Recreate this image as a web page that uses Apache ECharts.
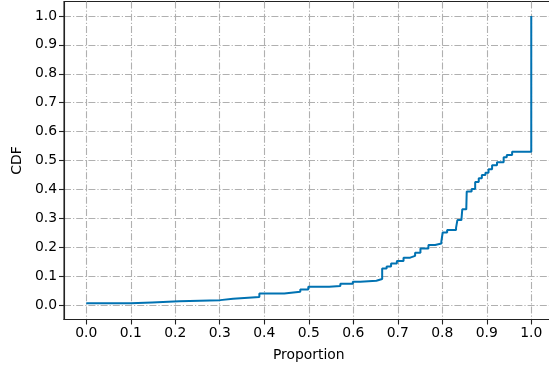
<!DOCTYPE html>
<html>
<head>
<meta charset="utf-8">
<script src="https://cdn.jsdelivr.net/npm/echarts@6/dist/echarts.min.js"></script>
<style>
  html, body { margin: 0; padding: 0; background: #fff; overflow: hidden; }
  /* a bit wider than the window: the right spine falls just outside, as in the picture */
  #chart { width: 560px; height: 368px; }
</style>
</head>
<body>
<div id="chart"></div>
<script>
// step points of the empirical CDF (x = proportion, y = CDF after the jump)
var proportion = [0, 0.1, 0.148, 0.209, 0.301, 0.330, 0.389, 0.445, 0.481, 0.499,
  0.546, 0.571, 0.599, 0.616, 0.652, 0.665, 0.675, 0.685, 0.698, 0.713,
  0.728, 0.739, 0.751, 0.769, 0.784, 0.798, 0.801, 0.811, 0.831, 0.834,
  0.843, 0.845, 0.854, 0.855, 0.866, 0.874, 0.882, 0.889, 0.897, 0.904,
  0.912, 0.923, 0.938, 0.945, 0.957, 1.0];
var cdf = [0.006, 0.009, 0.013, 0.017, 0.022, 0.028, 0.040, 0.046, 0.054, 0.063,
  0.066, 0.074, 0.081, 0.084, 0.090, 0.126, 0.133, 0.144, 0.152, 0.164,
  0.170, 0.181, 0.196, 0.208, 0.213, 0.220, 0.251, 0.260, 0.267, 0.294,
  0.300, 0.331, 0.335, 0.393, 0.401, 0.426, 0.439, 0.450, 0.458, 0.470,
  0.484, 0.494, 0.511, 0.519, 0.530, 1.0];
var tickValues = [0, 0.1, 0.2, 0.3, 0.4, 0.5, 0.6, 0.7, 0.8, 0.9, 1.0];

var chart = echarts.init(document.getElementById('chart'), null, { renderer: 'canvas' });

var font = 'DejaVu Sans';
var gridLine = {
  show: true,
  customValues: tickValues,
  lineStyle: { color: '#b0b0b0', width: 1.1, type: [7, 2, 1.2, 2] }
};

const makeAxis = (name, gap) => ({
  type: 'value',
  min: -0.05,
  max: 1.05,
  name: name,
  nameLocation: 'middle',
  nameGap: gap,
  nameTextStyle: { color: '#000', fontFamily: font, fontSize: 13.9 },
  axisLine: { show: true, onZero: false, lineStyle: { color: '#222', width: 1.1 } },
  axisTick: {
    show: true,
    customValues: tickValues,
    length: 5,
    lineStyle: { color: '#222', width: 1.1 }
  },
  axisLabel: {
    customValues: tickValues,
    color: '#000',
    fontFamily: font,
    fontSize: 13.9,
    margin: 7,
    formatter: v => v.toFixed(1)
  },
  splitLine: gridLine
});

var data = proportion.map((p, i) => [p, cdf[i]]);

chart.setOption({
  animation: false,
  grid: { left: 64, top: 1.5, width: 489.5, height: 318, containLabel: false,
    show: true, borderColor: '#222', borderWidth: 1.1, backgroundColor: 'transparent' },
  xAxis: makeAxis('Proportion', 29),
  yAxis: makeAxis('CDF', 39),
  series: [{
    type: 'line',
    step: 'end',
    data: data,
    showSymbol: false,
    symbol: 'none',
    clip: true,
    lineStyle: { color: '#0072b2', width: 2 }
  }]
});
</script>
</body>
</html>
